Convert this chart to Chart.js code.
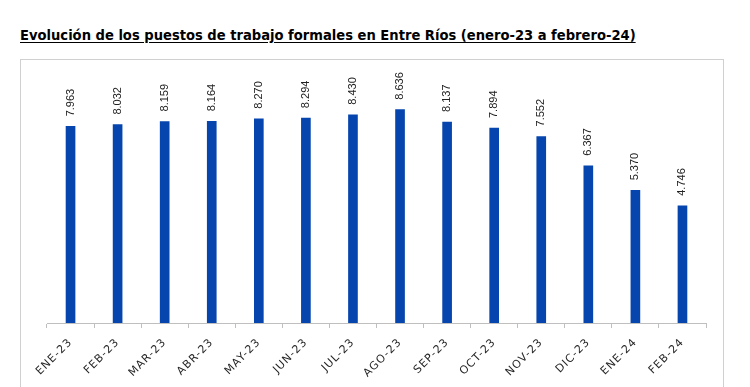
<!DOCTYPE html>
<html>
<head>
<meta charset="utf-8">
<script src="https://cdn.jsdelivr.net/npm/chart.js@4.4.1/dist/chart.umd.min.js"></script>
<style>
  html, body { margin: 0; padding: 0; background: #fff; }
  #wrap { position: relative; width: 750px; height: 387px; overflow: hidden; }
  #title {
    position: absolute; left: 20px; top: 26px; white-space: nowrap;
    font-family: "Liberation Sans Narrow", "DejaVu Sans Condensed", sans-serif;
    font-weight: bold; font-size: 17px; color: #000; text-decoration: underline;
    text-underline-offset: 2px;
  }
  #frame {
    position: absolute; left: 20px; top: 59px; width: 702px; height: 400px;
    border: 1px solid #d0d0d0; border-bottom: none;
  }
  canvas { position: absolute; left: 0; top: 0; }
</style>
</head>
<body>
<div id="wrap">
  <div id="title">Evolución de los puestos de trabajo formales en Entre Ríos (enero-23 a febrero-24)</div>
  <div id="frame"></div>
  <canvas id="c" width="750" height="387"></canvas>
</div>
<script>
// months on the x axis
const MONTHS = [
  "ENE-23", "FEB-23", "MAR-23", "ABR-23", "MAY-23", "JUN-23", "JUL-23",
  "AGO-23", "SEP-23", "OCT-23", "NOV-23", "DIC-23", "ENE-24", "FEB-24",
];

// formal jobs, thousands (shown with a dot as thousands separator)
const PUESTOS = [
  7963, 8032, 8159, 8164, 8270, 8294, 8430,
  8636, 8137, 7894, 7552, 6367, 5370, 4746,
];

const BAR_COLOR = "#0645ad";

// fit title to the width it has in the picture
const titleEl = document.getElementById("title");
const tw = titleEl.getBoundingClientRect().width;
titleEl.style.fontSize = (17 * 616 / tw).toFixed(2) + "px";

const fmt = (v) => v.toLocaleString("de-DE");

/** Vertical value labels above each bar. */
const valueLabels = {
  id: "valueLabels",
  afterDatasetsDraw(chart) {
    const ctx = chart.ctx;
    const meta = chart.getDatasetMeta(0);
    ctx.save();
    ctx.letterSpacing = "0px";
    ctx.font = "11px 'Liberation Sans', Arial, sans-serif";
    ctx.fillStyle = "#222";
    ctx.textAlign = "left";
    ctx.textBaseline = "middle";
    meta.data.forEach((bar, i) => {
      ctx.save();
      ctx.translate(bar.x, bar.y - 10);
      ctx.rotate(-Math.PI / 2);
      ctx.fillText(fmt(PUESTOS[i]), 0, 0);
      ctx.restore();
    });
    ctx.restore();
  },
};

// the axis labels in the picture are a little spaced out
const letterSpace = {
  id: "letterSpace",
  beforeDraw(chart) { chart.ctx.letterSpacing = "1px"; },
};

new Chart(document.getElementById("c"), {
  type: "bar",
  data: {
    labels: MONTHS,
    datasets: [{
      data: PUESTOS,
      backgroundColor: BAR_COLOR,
      barThickness: 9,
    }],
  },
  plugins: [letterSpace, valueLabels],
  options: {
    responsive: false,
    animation: false,
    layout: { padding: { left: 47, right: 44, top: 76, bottom: 0 } },
    scales: {
      x: {
        afterFit: (s) => { s.height = 64; },
        grid: {
          offset: true, drawOnChartArea: false, tickLength: 5,
          color: "#bfbfbf",
        },
        border: { color: "#bfbfbf" },
        ticks: {
          minRotation: 45, maxRotation: 45, padding: 8,
          color: "#262626",
          font: { family: "'DejaVu Sans', sans-serif", size: 11 },
        },
      },
      y: {
        display: false,
        min: 0, max: 10000,
      },
    },
    plugins: {
      legend: { display: false },
      tooltip: { enabled: false },
    },
  },
});
</script>
</body>
</html>
